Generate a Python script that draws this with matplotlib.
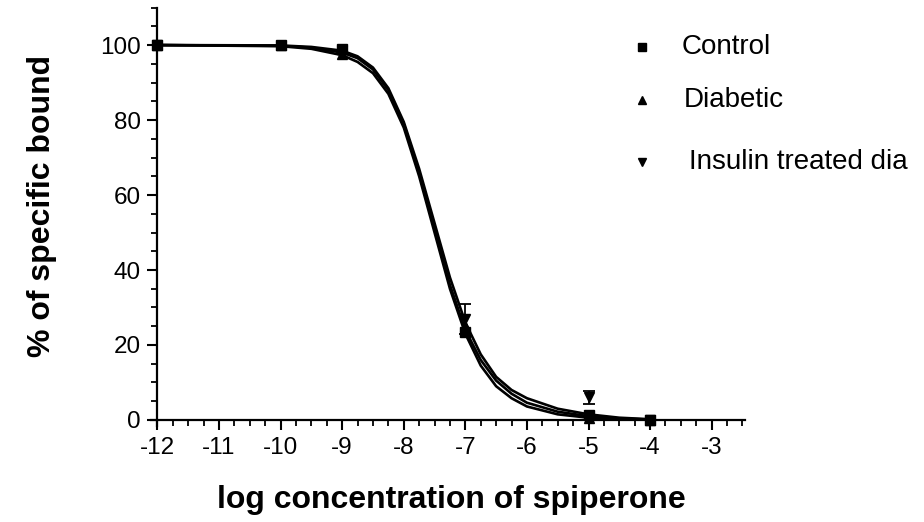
"""
    Competition binding curves: spiperone displacement
    (control, diabetic, insulin treated diabetic)
"""

import matplotlib
matplotlib.use('Agg')
import matplotlib.pyplot as plt
from matplotlib.ticker import MultipleLocator


# ============================================================
# Data
# ============================================================

# measured points
control_x = [-12, -10, -9, -7, -5, -4]
control_y = [100, 100, 99, 23.5, 1.2, 0]

diabetic_x = [-12, -10, -9, -7, -5, -4]
diabetic_y = [100, 100, 97.5, 25, 0.5, 0]

insulin_x = [-12, -9, -7, -5, -4]
insulin_y = [100, 98.5, 27, 6, 0]
insulin_err = [0, 0, 4, 1.8, 0]

# fitted curves
curve_x = [-12, -10, -9.5, -9, -8.75, -8.5, -8.25, -8, -7.75, -7.5,
           -7.25, -7, -6.75, -6.5, -6.25, -6, -5.5, -5, -4.5, -4]
curve_control = [100, 99.8, 99.3, 98, 96.5, 93.5, 88, 79, 66, 51,
                 36, 24, 16, 10.5, 7, 4.6, 2.2, 1.0, 0.4, 0.1]
curve_diabetic = [100, 99.7, 99, 97.3, 95.5, 92.5, 87, 78, 65, 50,
                  35, 23, 14.5, 9, 5.8, 3.6, 1.5, 0.6, 0.2, 0.1]
curve_insulin = [100, 99.9, 99.5, 98.5, 97, 94, 88.5, 79.5, 67, 52.5,
                 38, 26, 17.5, 11.5, 8, 5.8, 3.0, 1.5, 0.6, 0.2]

x_ticks = [-12, -11, -10, -9, -8, -7, -6, -5, -4, -3]
y_ticks = [0, 20, 40, 60, 80, 100]

legend_labels = ['Control', 'Diabetic', 'Insulin treated dia']


def main() -> None:
    plt.rcParams['font.family'] = ['Liberation Sans', 'DejaVu Sans']

    fig = plt.figure(figsize=(9.24, 5.22), dpi=100)
    ax = fig.add_axes([0.1637, 0.1847, 0.6425, 0.8008])

    # curves
    for ys in (curve_control, curve_diabetic, curve_insulin):
        ax.plot(curve_x, ys, color='black', lw=1.9, zorder=2)

    # points
    ax.plot(control_x, control_y, 's', color='black', ms=6.5, zorder=3)
    ax.plot(diabetic_x, diabetic_y, '^', color='black', ms=6.5, zorder=3)
    ax.errorbar(insulin_x, insulin_y, yerr=insulin_err, fmt='v', color='black',
                ms=6.5, capsize=4, elinewidth=1.3, capthick=1.3, zorder=3)

    # axes styling
    ax.set_xlim(-12.1, -2.46)
    ax.set_ylim(-1.5, 110)
    for side in ('top', 'right'):
        ax.spines[side].set_visible(False)
    ax.spines['left'].set_position(('data', -12))
    ax.spines['bottom'].set_position(('data', 0))
    ax.spines['left'].set_linewidth(1.6)
    ax.spines['bottom'].set_linewidth(1.6)

    ax.set_xticks(x_ticks)
    ax.set_xticklabels([str(t) for t in x_ticks])
    ax.set_yticks(y_ticks)
    ax.xaxis.set_minor_locator(MultipleLocator(0.25))
    ax.yaxis.set_minor_locator(MultipleLocator(5))
    ax.tick_params(which='major', length=7, width=1.5, labelsize=17.5, pad=5)
    ax.tick_params(which='minor', length=4, width=1.3)

    fig.text(0.489, 0.042, 'log concentration of spiperone', ha='center',
             va='center', fontsize=23, fontweight='bold')
    fig.text(0.045, 0.605, '% of specific bound', ha='center', va='center',
             rotation=90, fontsize=23, fontweight='bold')

    # legend drawn by hand
    markers = ['s', '^', 'v']
    marker_y = [0.910, 0.808, 0.690]
    text_x = [0.738, 0.740, 0.746]
    for m, yy, tx, lab in zip(markers, marker_y, text_x, legend_labels):
        fig.lines.append(plt.Line2D([0.695], [yy], marker=m, color='black',
                                    ms=6, transform=fig.transFigure))
        fig.text(tx, yy, lab, ha='left', va='center', fontsize=20)

    fig.savefig('out.png', dpi=100)
    plt.close(fig)


if __name__ == '__main__':
    main()
